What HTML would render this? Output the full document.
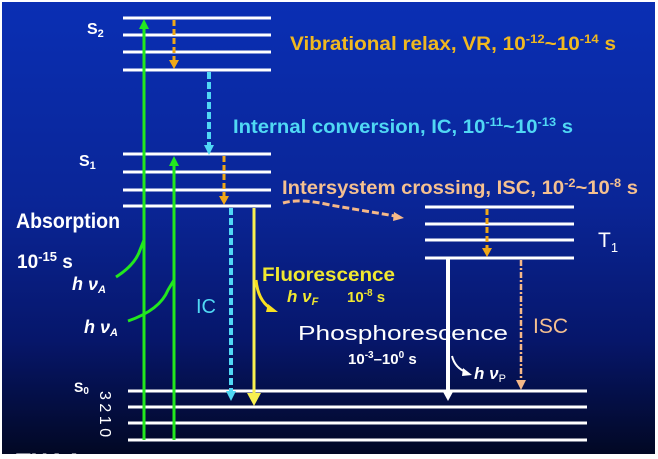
<!DOCTYPE html>
<html><head><meta charset="utf-8"><style>
html,body{margin:0;padding:0;background:#fff;}
svg{display:block;}
.c{font-family:"Liberation Sans Narrow","Liberation Sans",sans-serif;font-weight:bold;}
.r{font-family:"Liberation Sans",sans-serif;}
</style></head><body>
<svg width="658" height="459" viewBox="0 0 658 459" xmlns="http://www.w3.org/2000/svg">
<defs>
<linearGradient id="bg" x1="0" y1="0" x2="0" y2="1">
<stop offset="0" stop-color="#0a2fb4"/>
<stop offset="0.45" stop-color="#0a2596"/>
<stop offset="0.75" stop-color="#06166a"/>
<stop offset="1" stop-color="#020824"/>
</linearGradient>
</defs>
<rect x="0" y="0" width="658" height="459" fill="#fff"/>
<rect x="2" y="2" width="653" height="452" fill="url(#bg)"/>
<text x="16" y="470" class="c" font-size="24" fill="#fff">THAA</text>

<g stroke="#fff" stroke-width="3">
<line x1="123" y1="18" x2="271" y2="18"/><line x1="123" y1="35" x2="271" y2="35"/>
<line x1="123" y1="52" x2="271" y2="52"/><line x1="123" y1="70" x2="271" y2="70"/>
<line x1="123" y1="154" x2="271" y2="154"/><line x1="123" y1="172" x2="271" y2="172"/>
<line x1="123" y1="190" x2="271" y2="190"/><line x1="123" y1="206" x2="271" y2="206"/>
<line x1="128" y1="391" x2="587" y2="391"/><line x1="128" y1="407" x2="587" y2="407"/>
<line x1="128" y1="423" x2="587" y2="423"/><line x1="128" y1="440" x2="587" y2="440"/>
<line x1="425" y1="207" x2="574" y2="207"/><line x1="425" y1="224" x2="574" y2="224"/>
<line x1="425" y1="240" x2="574" y2="240"/><line x1="425" y1="258" x2="574" y2="258"/>
</g>

<g stroke="#22e81e" stroke-width="3" fill="none">
<line x1="144" y1="440" x2="144" y2="26"/>
<line x1="174" y1="440" x2="174" y2="163"/>
<path d="M116 277 Q135 265 140 250 L144 240"/>
<path d="M128 321 Q160 310 168 290 L174 280"/>
</g>
<g fill="#22e81e">
<polygon points="144,19 139,29 149,29"/>
<polygon points="174,156 169,166 179,166"/>
</g>

<g stroke="#f0a818" stroke-width="3" stroke-dasharray="6,3" fill="none">
<line x1="174" y1="20" x2="174" y2="60"/>
<line x1="224" y1="156" x2="224" y2="196"/>
<line x1="487" y1="209" x2="487" y2="248"/>
</g>
<g fill="#f0a818">
<polygon points="174,69 169,60 179,60"/>
<polygon points="224,205 219,196 229,196"/>
<polygon points="487,257 482,248 492,248"/>
</g>

<g stroke="#50d8f4" stroke-width="4" stroke-dasharray="7,3" fill="none">
<line x1="209" y1="72" x2="209" y2="146"/>
<line x1="231" y1="208" x2="231" y2="392"/>
</g>
<g fill="#50d8f4">
<polygon points="209,155 204,145 214,145"/>
<polygon points="231,401 226,391 236,391"/>
</g>

<line x1="254" y1="208" x2="254" y2="395" stroke="#f8f050" stroke-width="3"/>
<polygon points="254,406 247,393 261,393" fill="#f8f050"/>
<path d="M256 280 Q258 300 270 308" stroke="#f8e020" stroke-width="3" fill="none"/>
<polygon points="278,312 268,304 266,312" fill="#f8e020"/>

<path d="M283 203 Q300 198 330 205 L395 216" stroke="#f5b888" stroke-width="3" stroke-dasharray="7,3" fill="none"/>
<polygon points="404,218 394,212 393,221" fill="#f5b888"/>
<line x1="521" y1="260" x2="521" y2="380" stroke="#f5b888" stroke-width="2.5" stroke-dasharray="6,2,2,2"/>
<polygon points="521,390 516,380 526,380" fill="#f5b888"/>

<line x1="448" y1="258" x2="448" y2="392" stroke="#fff" stroke-width="4"/>
<polygon points="448,401 442,390 454,390" fill="#fff"/>
<path d="M452 356 Q455 368 466 372" stroke="#fff" stroke-width="2" fill="none"/>
<polygon points="472,375 463,368 462,376" fill="#fff"/>

<g class="c" fill="#fff">
<text x="87" y="34" font-size="16">S<tspan font-size="11" dy="3">2</tspan></text>
<text x="79" y="166" font-size="16">S<tspan font-size="11" dy="3">1</tspan></text>
<text x="74" y="392" font-size="14">S<tspan font-size="10" dy="2">0</tspan></text>
<text x="16" y="228" font-size="21" textLength="104" lengthAdjust="spacingAndGlyphs">Absorption</text>
<text x="17" y="268" font-size="19">10<tspan font-size="13" dy="-7">-15</tspan><tspan dy="7"> s</tspan></text>
<text x="72" y="290" font-size="18" font-style="italic">h ν<tspan font-size="11" dy="3">A</tspan></text>
<text x="84" y="333" font-size="18" font-style="italic">h ν<tspan font-size="11" dy="3">A</tspan></text>
</g>
<text transform="translate(100,391) rotate(90)" class="r" font-size="16" fill="#fff" letter-spacing="3.5">3210</text>

<text x="290" y="50" class="c" font-size="19" fill="#f0b820" textLength="326" lengthAdjust="spacingAndGlyphs">Vibrational relax, VR, 10<tspan font-size="12" dy="-7">-12</tspan><tspan dy="7">~10</tspan><tspan font-size="12" dy="-7">-14</tspan><tspan dy="7"> s</tspan></text>
<text x="233" y="133" class="c" font-size="19" fill="#50d8f4" textLength="340" lengthAdjust="spacingAndGlyphs">Internal conversion, IC, 10<tspan font-size="12" dy="-7">-11</tspan><tspan dy="7">~10</tspan><tspan font-size="12" dy="-7">-13</tspan><tspan dy="7"> s</tspan></text>
<text x="282" y="194" class="c" font-size="19" fill="#f5c090" textLength="356" lengthAdjust="spacingAndGlyphs">Intersystem crossing, ISC, 10<tspan font-size="12" dy="-7">-2</tspan><tspan dy="7">~10</tspan><tspan font-size="12" dy="-7">-8</tspan><tspan dy="7"> s</tspan></text>

<text x="196" y="313" class="r" font-size="20" fill="#50d8f4">IC</text>
<text x="262" y="281" class="c" font-size="19" fill="#f0e830" textLength="133" lengthAdjust="spacingAndGlyphs">Fluorescence</text>
<text x="287" y="302" class="c" font-size="17" fill="#f0e830" font-style="italic">h ν<tspan font-size="11" dy="3">F</tspan></text>
<text x="347" y="302" class="c" font-size="15" fill="#f0e830">10<tspan font-size="10" dy="-6">-8</tspan><tspan dy="6"> s</tspan></text>

<text x="298" y="340" class="r" font-size="20" fill="#fff" textLength="210" lengthAdjust="spacingAndGlyphs">Phosphorescence</text>
<text x="348" y="364" class="c" font-size="15" fill="#fff">10<tspan font-size="10" dy="-6">-3</tspan><tspan dy="6">–10</tspan><tspan font-size="10" dy="-6">0</tspan><tspan dy="6"> s</tspan></text>
<text x="474" y="379" class="c" font-size="17" fill="#fff" font-style="italic">h ν<tspan font-size="11" dy="3" class="r" font-style="normal" font-weight="normal">P</tspan></text>

<text x="533" y="333" class="r" font-size="21" fill="#f5c090">ISC</text>
<text x="598" y="247" class="r" font-size="21" fill="#fff">T<tspan font-size="13" dy="5">1</tspan></text>
</svg>
</body></html>
